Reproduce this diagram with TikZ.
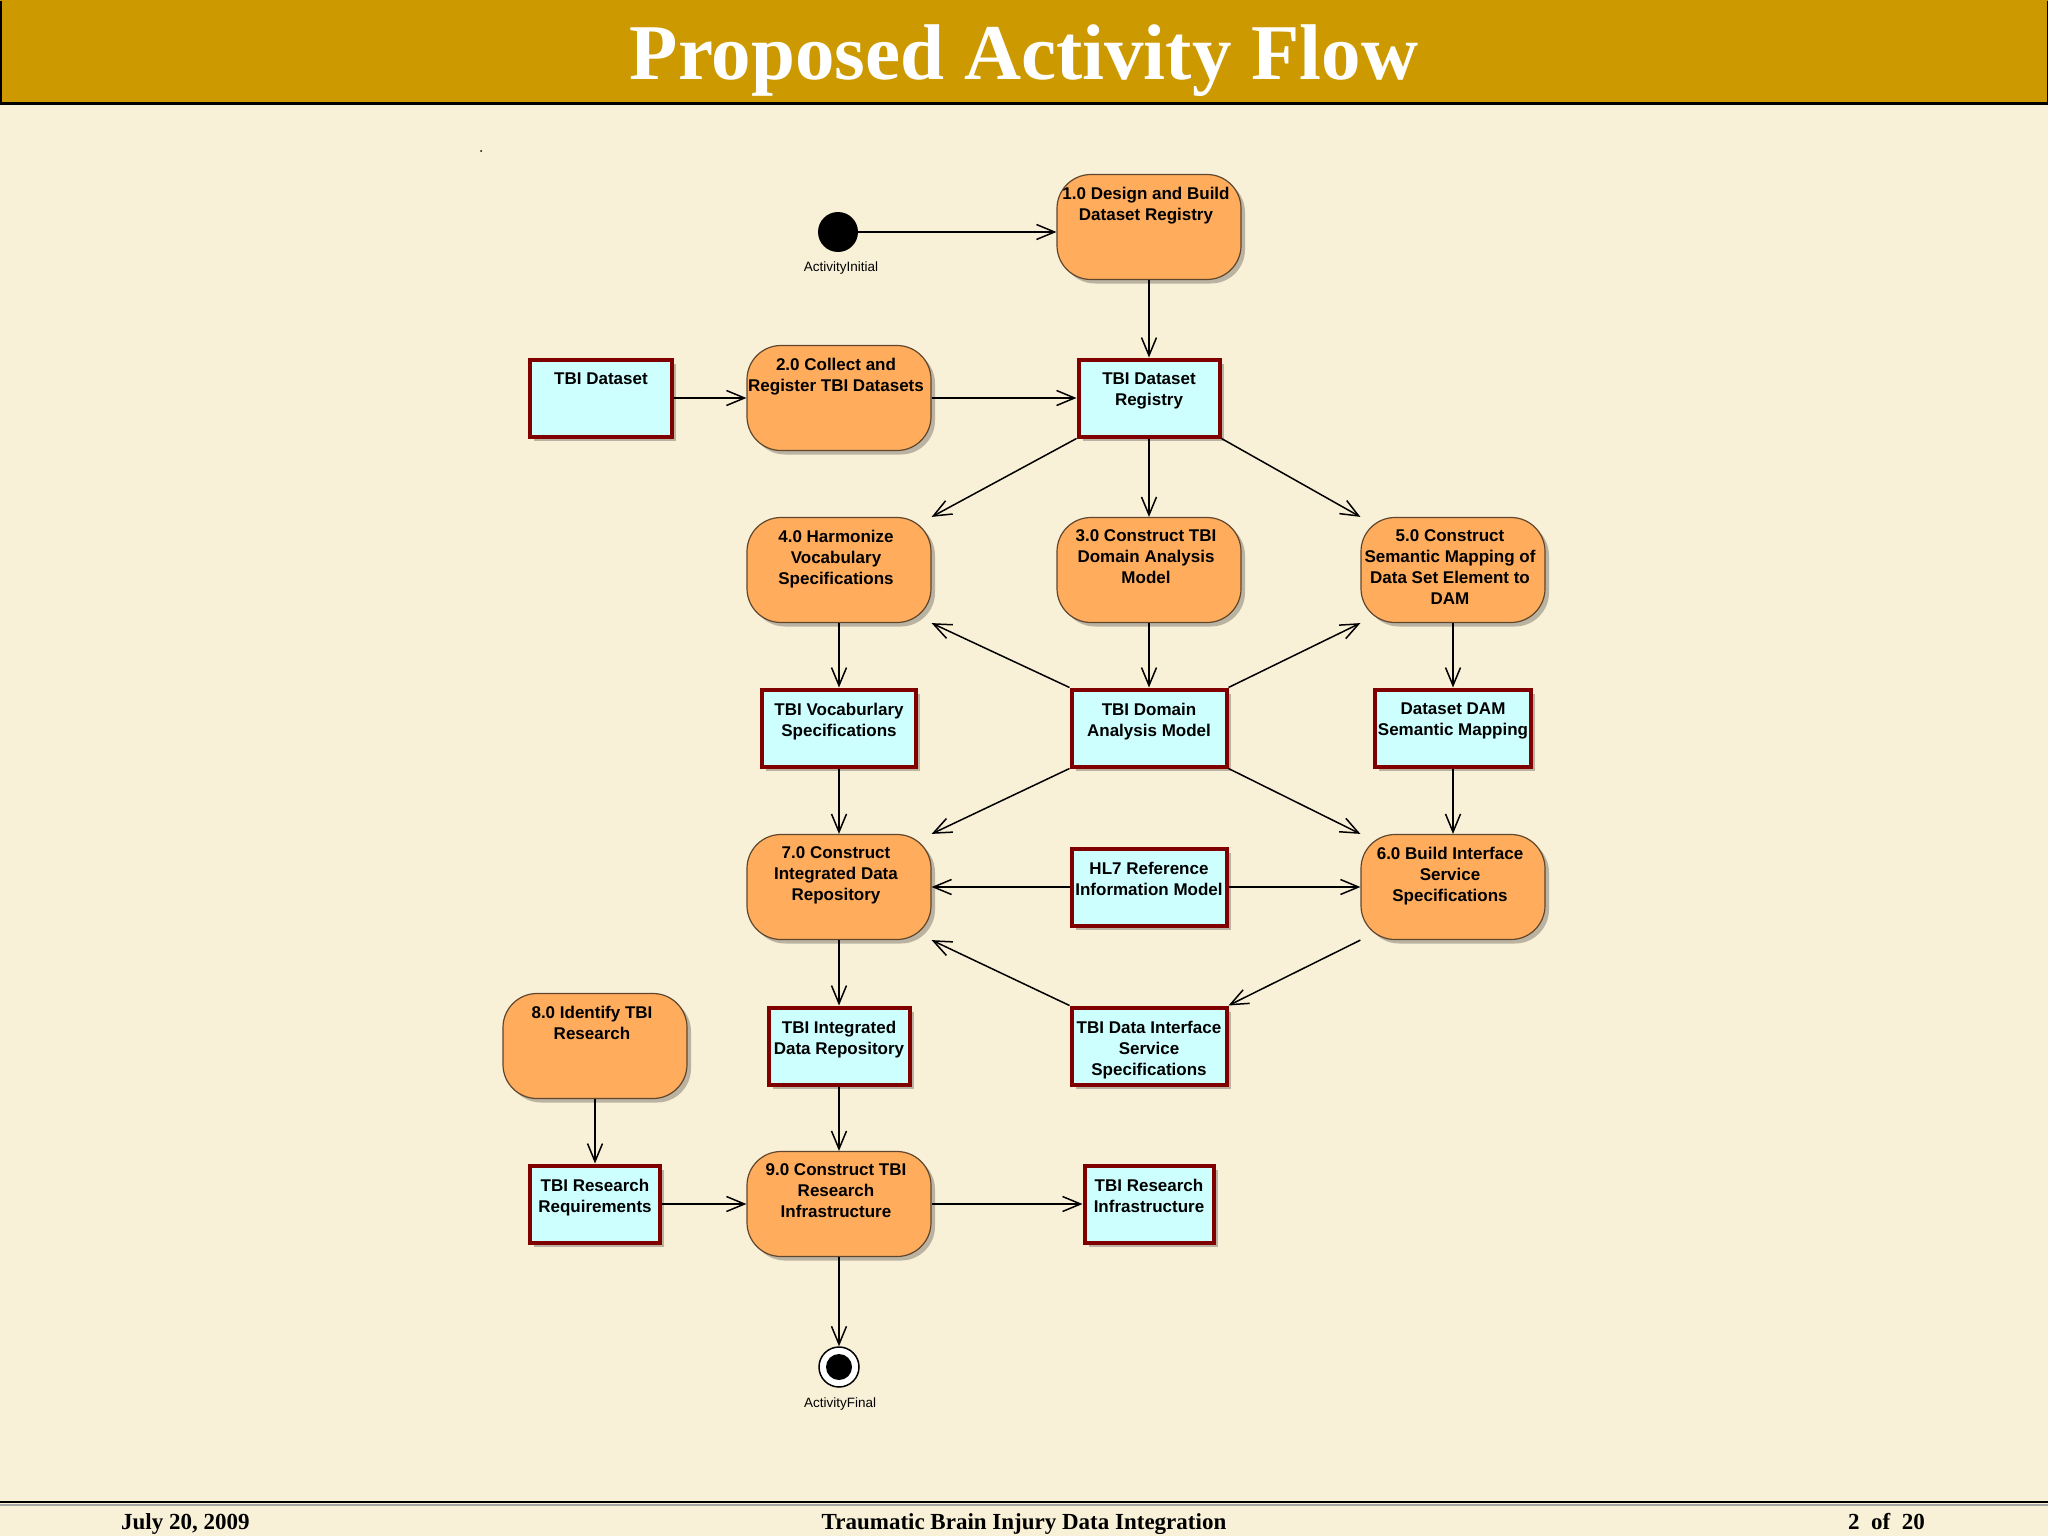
\documentclass[tikz,border=0pt]{standalone}
\usepackage{fontspec}
\setmainfont{Liberation Sans}
\newfontfamily\timesfont{Liberation Serif}
\usetikzlibrary{arrows.meta,shadows}
\definecolor{bgc}{RGB}{249,240,216}
\definecolor{barc}{RGB}{204,153,0}
\definecolor{actc}{RGB}{255,173,92}
\definecolor{objc}{RGB}{206,255,255}
\definecolor{objb}{RGB}{128,0,0}
\definecolor{actb}{RGB}{95,70,45}
\newcommand\mkact[3]{\node[act] (#1) at (#2) {};
  \node[lbl] (#1t) at ([xshift=-3pt,yshift=-13pt]#1.north) {#3};}
\newcommand\mkobj[4]{\node[obj,minimum width=#3] (#1) at (#2) {};
  \node[lbl] (#1t) at ([yshift=-15pt]#1.north) {#4};}
\begin{document}
\begin{tikzpicture}[x=1pt,y=-1pt,
  act/.style={draw=actb, line width=1.2pt, fill=actc, rounded corners=34pt,
    minimum width=184pt, minimum height=105pt, inner sep=0pt,
    drop shadow={shadow xshift=4pt,shadow yshift=-4pt,fill=black,opacity=0.25}},
  obj/.style={draw=objb, line width=4pt, fill=objc, inner sep=0pt, minimum height=77pt,
    drop shadow={shadow xshift=4pt,shadow yshift=-4pt,fill=black,opacity=0.25}},
  lbl/.style={font=\fontsize{17}{21}\selectfont\bfseries, align=center, inner sep=0pt, anchor=north},
  small/.style={font=\fontsize{13.5}{16}\selectfont, inner sep=0pt},
  foot/.style={font=\timesfont\bfseries\fontsize{23}{26}\selectfont, inner sep=0pt},
  flow/.style={line width=1.5pt, -{Straight Barb[length=18pt,width=15pt]}},
]
\useasboundingbox (0,0) rectangle (2048,1536);
\fill[bgc] (0,0) rectangle (2048,1536);
% title bar
\fill[barc] (0,0) rectangle (2048,104);
\draw[line width=1.5pt] (0.75,0.75) -- (0.75,104) (2047.25,0.75) -- (2047.25,104);
\draw[line width=3pt] (0,104) -- (2048,104);
\node[font=\timesfont\bfseries\fontsize{79}{90}\selectfont, text=white, anchor=base, inner sep=0pt] (title) at (1024,80) {Proposed Activity Flow};
% footer
\draw[black!35, line width=2pt] (0,1505) -- (2048,1505);
\draw[line width=2.5pt] (0,1502) -- (2048,1502);
\node[foot, anchor=base west] (fdate) at (121,1529) {July 20, 2009};
\node[foot, anchor=base] (ftitle) at (1024,1529) {Traumatic Brain Injury Data Integration};
\node[foot, anchor=base east] (fpage) at (1925,1529) {2~~of~~20};
% stray dot
\fill (481,151) circle (1pt);
% initial / final
\node[circle, fill=black, minimum size=40pt, inner sep=0pt] (ini) at (838,232) {};
\node[small] (inil) at (841,268) {ActivityInitial};
\node[circle, draw=black, line width=1.5pt, fill=white, minimum size=40pt, inner sep=0pt] (fin) at (839,1367) {};
\node[circle, fill=black, minimum size=26pt, inner sep=0pt] (findot) at (fin.center) {};
\node[small] (finl) at (840,1404) {ActivityFinal};
% activities
\mkact{a1}{1149,227}{1.0 Design and Build\\Dataset Registry}
\mkact{a2}{839,398}{2.0 Collect and\\Register TBI Datasets}
\mkact{a4}{839,570}{4.0 Harmonize\\Vocabulary\\Specifications}
\mkact{a3}{1149,570}{3.0 Construct TBI\\Domain Analysis\\Model}
\mkact{a5}{1453,570}{5.0 Construct\\Semantic Mapping of\\Data Set Element to\\DAM}
\mkact{a7}{839,887}{7.0 Construct\\Integrated Data\\Repository}
\mkact{a6}{1453,887}{6.0 Build Interface\\Service\\Specifications}
\mkact{a8}{595,1046}{8.0 Identify TBI\\Research}
\mkact{a9}{839,1204}{9.0 Construct TBI\\Research\\Infrastructure}
% objects
\mkobj{o1}{601,398}{142pt}{TBI Dataset}
\mkobj{o2}{1149,398}{141pt}{TBI Dataset\\Registry}
\mkobj{o3}{839,728}{154pt}{TBI Vocaburlary\\Specifications}
\mkobj{o4}{1149,728}{155pt}{TBI Domain\\Analysis Model}
\mkobj{o5}{1453,728}{156pt}{Dataset DAM\\Semantic Mapping}
\mkobj{o6}{1149,887}{155pt}{HL7 Reference\\Information Model}
\mkobj{o7}{839,1046}{141pt}{TBI Integrated\\Data Repository}
\mkobj{o8}{1149,1046}{155pt}{TBI Data Interface\\Service\\Specifications}
\mkobj{o9}{595,1204}{130pt}{TBI Research\\Requirements}
\mkobj{o10}{1149,1204}{129pt}{TBI Research\\Infrastructure}
% connectors
\draw[flow] (ini.east) -- (ini.east -| a1.west);
\draw[flow] (a1.south) -- (o2.north);
\draw[flow] (o1.east) -- (a2.west);
\draw[flow] (a2.east) -- (o2.west);
\draw[flow] (o2.south west) -- (a4.north east);
\draw[flow] (o2.south) -- (a3.north);
\draw[flow] (o2.south east) -- (a5.north west);
\draw[flow] (a4.south) -- (o3.north);
\draw[flow] (a3.south) -- (o4.north);
\draw[flow] (a5.south) -- (o5.north);
\draw[flow] (o4.north west) -- (a4.south east);
\draw[flow] (o4.north east) -- (a5.south west);
\draw[flow] (o3.south) -- (a7.north);
\draw[flow] (o4.south west) -- (a7.north east);
\draw[flow] (o4.south east) -- (a6.north west);
\draw[flow] (o5.south) -- (a6.north);
\draw[flow] (o6.west) -- (a7.east);
\draw[flow] (o6.east) -- (a6.west);
\draw[flow] (a6.south west) -- (o8.north east);
\draw[flow] (o8.north west) -- (a7.south east);
\draw[flow] (a7.south) -- (o7.north);
\draw[flow] (a8.south) -- (o9.north);
\draw[flow] (o7.south) -- (a9.north);
\draw[flow] (o9.east) -- (a9.west);
\draw[flow] (a9.east) -- (o10.west);
\draw[flow] (a9.south) -- (fin.north);
\end{tikzpicture}
\end{document}
